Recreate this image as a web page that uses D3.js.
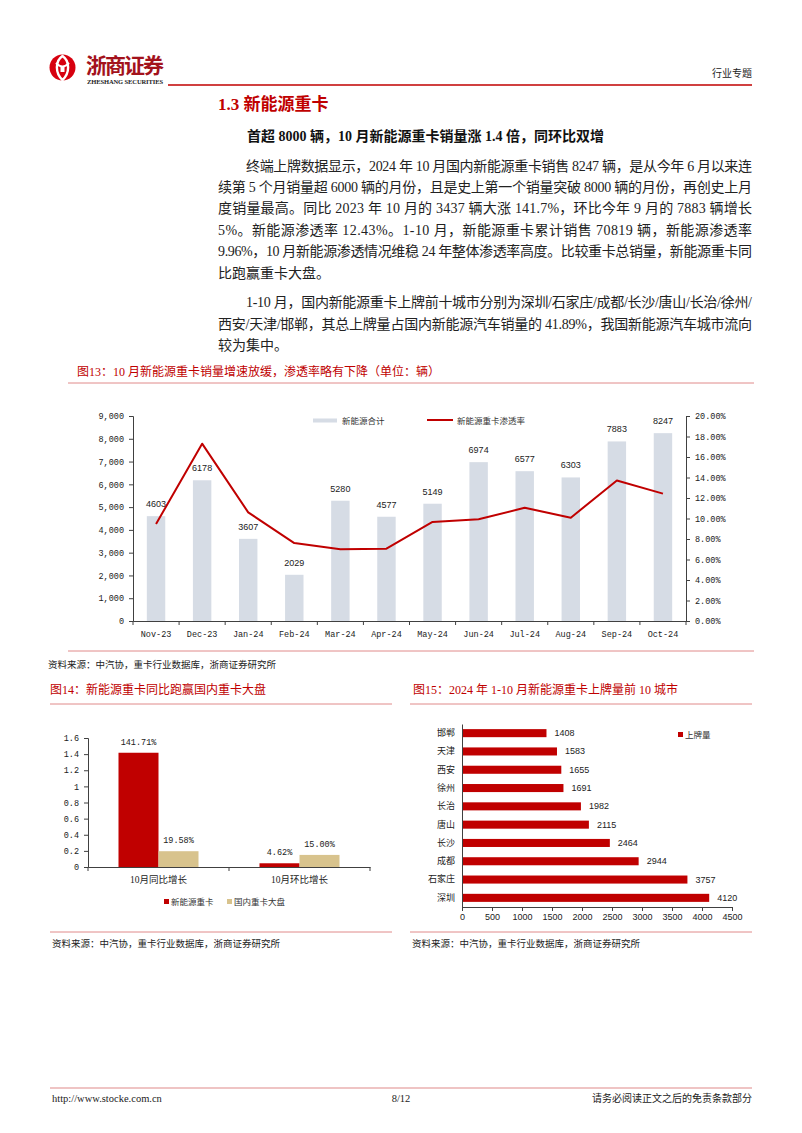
<!DOCTYPE html>
<html><head><meta charset="utf-8">
<script src="https://cdn.jsdelivr.net/npm/d3@7"></script>
<style>body{margin:0;background:#fff}svg{display:block}</style>
</head><body>
<script>
// ---------- data ----------
const months = ["Nov-23","Dec-23","Jan-24","Feb-24","Mar-24","Apr-24","May-24","Jun-24","Jul-24","Aug-24","Sep-24","Oct-24"];
const nevSales = [4603,6178,3607,2029,5280,4577,5149,6974,6577,6303,7883,8247];
const nevRate = [0.0946,0.173,0.106,0.076,0.070,0.0705,0.0966,0.0992,0.1105,0.1008,0.137,0.1243];
const leftTicks = [0,1000,2000,3000,4000,5000,6000,7000,8000,9000];
const rightTicks = [0,0.02,0.04,0.06,0.08,0.10,0.12,0.14,0.16,0.18,0.20];

const growthCats = ["10月同比增长","10月环比增长"];
const growthNev = [1.4171,0.0462];
const growthAll = [0.1958,0.15];
const growthTicks = [0,0.2,0.4,0.6,0.8,1,1.2,1.4,1.6];

const cities = ["深圳","石家庄","成都","长沙","唐山","长治","徐州","西安","天津","邯郸"];
const cityVals = [4120,3757,2944,2464,2115,1982,1691,1655,1583,1408];
const cityTicks = [0,500,1000,1500,2000,2500,3000,3500,4000,4500];

const para1 = [
 "终端上牌数据显示，2024 年 10 月国内新能源重卡销售 8247 辆，是从今年 6 月以来连",
 "续第 5 个月销量超 6000 辆的月份，且是史上第一个销量突破 8000 辆的月份，再创史上月",
 "度销量最高。同比 2023 年 10 月的 3437 辆大涨 141.7%，环比今年 9 月的 7883 辆增长",
 "5%。新能源渗透率 12.43%。1-10 月，新能源重卡累计销售 70819 辆，新能源渗透率",
 "9.96%，10 月新能源渗透情况维稳 24 年整体渗透率高度。比较重卡总销量，新能源重卡同",
 "比跑赢重卡大盘。"
];
const para2 = [
 "1-10 月，国内新能源重卡上牌前十城市分别为深圳/石家庄/成都/长沙/唐山/长治/徐州/",
 "西安/天津/邯郸，其总上牌量占国内新能源汽车销量的 41.89%，我国新能源汽车城市流向",
 "较为集中。"
];

// ---------- styles ----------
const RED = "#c00000";
const BARGRAY = "#d6dce5";
const TAN = "#d8c38d";
const AX = "#404040";
const SERIF = "'Liberation Serif','Noto Sans CJK SC',serif";
const CJK = "'Noto Sans CJK SC',sans-serif";
const MONO = "'Liberation Mono','Noto Sans CJK SC',monospace";
const SANS = "'Liberation Sans','Noto Sans CJK SC',sans-serif";

const svg = d3.select("body").append("svg").attr("width",802).attr("height",1133);
svg.append("rect").attr("width",802).attr("height",1133).attr("fill","#fff");

function txt(x,y,s,o={}){
  const t = svg.append("text").attr("x",x).attr("y",y).text(s)
    .attr("font-family",o.ff||SERIF).attr("font-size",o.fs||14)
    .attr("fill",o.fill||"#1a1a1a");
  if(o.fw) t.attr("font-weight",o.fw);
  if(o.anchor) t.attr("text-anchor",o.anchor);
  if(o.len){ t.attr("textLength",o.len).attr("lengthAdjust","spacing"); }
  if(o.db) t.attr("dominant-baseline",o.db);
  return t;
}
function hline(x1,x2,y,c,w){ svg.append("line").attr("x1",x1).attr("x2",x2).attr("y1",y).attr("y2",y).attr("stroke",c).attr("stroke-width",w||1); }

// ---------- header ----------
svg.append("circle").attr("cx",62.5).attr("cy",67.5).attr("r",13).attr("fill","#d7000f");
svg.append("path").attr("d","M62.5,56 C55,61 55,73 62.5,80 C70,73 70,61 62.5,56 Z").attr("fill","none").attr("stroke","#fff").attr("stroke-width",2.4);
svg.append("path").attr("d","M56,63 Q62.5,70 69,63").attr("fill","none").attr("stroke","#fff").attr("stroke-width",2);
svg.append("rect").attr("x",60.5).attr("y",66).attr("width",4).attr("height",6).attr("fill","#fff");
txt(86,73,"浙商证券",{ff:CJK,fs:21,fw:"bold",fill:"#a3121c",len:78});
txt(87,84,"ZHESHANG SECURITIES",{ff:"'Liberation Serif',serif",fs:6.5,fw:"bold",fill:"#222",len:76});
hline(168,752,85,RED,1.5);
txt(752,77,"行业专题",{ff:CJK,fs:10,anchor:"end",fill:"#222"});

// ---------- body text ----------
txt(218,110,"1.3 新能源重卡",{fs:17,fw:"bold",fill:RED});
txt(247,141,"首超 8000 辆，10 月新能源重卡销量涨 1.4 倍，同环比双增",{fs:14,fw:"bold",fill:"#111"});
const p1y = [171,192,213,235,256,278];
para1.forEach((s,i)=>{
  const x = i===0?246:218;
  const last = i===para1.length-1;
  txt(x,p1y[i],s,{fs:14,len:last?null:752-x,fill:"#222"});
});
const p2y = [307,329,350];
para2.forEach((s,i)=>{
  const x = i===0?246:218;
  const last = i===para2.length-1;
  txt(x,p2y[i],s,{fs:14,len:last?null:752-x,fill:"#222"});
});

// ---------- Figure 13 ----------
txt(77,376,"图13：10 月新能源重卡销量增速放缓，渗透率略有下降（单位：辆）",{fs:12,fill:RED});
hline(68,754,383,"#e08a8a",1);
{
  const x = d3.scaleBand().domain(months).range([133,686]);
  const y = d3.scaleLinear().domain([0,9000]).range([621,416]);
  const y2 = d3.scaleLinear().domain([0,0.2]).range([621,416]);
  const bw = x.bandwidth()*0.4;
  const g = svg.append("g");
  g.selectAll("rect.b").data(months).join("rect")
    .attr("x",d=>x(d)+x.bandwidth()/2-bw/2).attr("width",bw)
    .attr("y",(d,i)=>y(nevSales[i])).attr("height",(d,i)=>y(0)-y(nevSales[i]))
    .attr("fill",BARGRAY);
  g.selectAll("text.v").data(months).join("text")
    .attr("x",d=>x(d)+x.bandwidth()/2).attr("y",(d,i)=>y(nevSales[i])-9)
    .attr("text-anchor","middle").attr("font-family",SANS).attr("font-size",9).attr("fill","#222")
    .text((d,i)=>nevSales[i]);
  const line = d3.line().x((d,i)=>x(months[i])+x.bandwidth()/2).y(d=>y2(d));
  g.append("path").datum(nevRate).attr("d",line).attr("fill","none").attr("stroke",RED).attr("stroke-width",2).attr("stroke-linejoin","round");

  const la = g.append("g").attr("transform","translate(133,0)")
    .call(d3.axisLeft(y).tickValues(leftTicks).tickSize(4).tickPadding(5).tickFormat(d3.format(",")));
  const ra = g.append("g").attr("transform","translate(686,0)")
    .call(d3.axisRight(y2).tickValues(rightTicks).tickSize(4).tickPadding(5).tickFormat(d3.format(".2%")));
  const xa = g.append("g").attr("transform","translate(0,621)")
    .call(d3.axisBottom(x).tickSize(0).tickPadding(10));
  [la,ra,xa].forEach(a=>{
    a.select(".domain").attr("stroke",AX);
    a.selectAll(".tick line").attr("stroke",AX);
    a.selectAll("text").attr("font-family",MONO).attr("font-size",8.5).attr("fill","#222");
  });
  xa.selectAll("text").attr("font-size",8.5);
  g.selectAll("line.bt").data(months.concat(["end"])).join("line")
    .attr("x1",d=>d==="end"?x.range()[1]:x(d)).attr("x2",d=>d==="end"?x.range()[1]:x(d))
    .attr("y1",621).attr("y2",625).attr("stroke",AX);
  g.append("rect").attr("x",313).attr("y",418.5).attr("width",24).attr("height",4).attr("fill",BARGRAY);
  txt(342,424,"新能源合计",{ff:CJK,fs:8.5,fill:"#333"});
  g.append("line").attr("x1",427).attr("x2",453).attr("y1",420).attr("y2",420).attr("stroke",RED).attr("stroke-width",2);
  txt(457,424,"新能源重卡渗透率",{ff:CJK,fs:8.5,fill:"#333"});
}
hline(68,754,651,"#e08a8a",1);
txt(48,668,"资料来源：中汽协，重卡行业数据库，浙商证券研究所",{ff:CJK,fs:9.5,fill:"#222"});

// ---------- Figure 14 ----------
txt(50,694,"图14：新能源重卡同比跑赢国内重卡大盘",{fs:12,fill:RED});
hline(50,392,704,"#e08a8a",1);
{
  const x = d3.scaleBand().domain(growthCats).range([88,370]);
  const y = d3.scaleLinear().domain([0,1.6]).range([867,738]);
  const g = svg.append("g");
  const bw = 40;
  g.selectAll("rect.a").data(growthCats).join("rect")
    .attr("x",d=>x(d)+x.bandwidth()/2-bw).attr("width",bw)
    .attr("y",(d,i)=>y(growthNev[i])).attr("height",(d,i)=>y(0)-y(growthNev[i])).attr("fill",RED);
  g.selectAll("rect.b").data(growthCats).join("rect")
    .attr("x",d=>x(d)+x.bandwidth()/2).attr("width",bw)
    .attr("y",(d,i)=>y(growthAll[i])).attr("height",(d,i)=>y(0)-y(growthAll[i])).attr("fill",TAN);
  const f = d3.format(".2%");
  g.selectAll("text.a").data(growthCats).join("text")
    .attr("x",d=>x(d)+x.bandwidth()/2-bw/2).attr("y",(d,i)=>y(growthNev[i])-8)
    .attr("text-anchor","middle").attr("font-family",MONO).attr("font-size",8.5).attr("fill","#222")
    .text((d,i)=>f(growthNev[i]));
  g.selectAll("text.b").data(growthCats).join("text")
    .attr("x",d=>x(d)+x.bandwidth()/2+bw/2).attr("y",(d,i)=>y(growthAll[i])-8)
    .attr("text-anchor","middle").attr("font-family",MONO).attr("font-size",8.5).attr("fill","#222")
    .text((d,i)=>f(growthAll[i]));
  const la = g.append("g").attr("transform","translate(88,0)")
    .call(d3.axisLeft(y).tickValues(growthTicks).tickSize(4).tickPadding(5).tickFormat(d=>d3.format("")(+d.toFixed(1))));
  const xa = g.append("g").attr("transform","translate(0,867)")
    .call(d3.axisBottom(x).tickSize(0).tickPadding(9));
  [la,xa].forEach(a=>{
    a.select(".domain").attr("stroke",AX);
    a.selectAll(".tick line").attr("stroke",AX);
    a.selectAll("text").attr("font-family",MONO).attr("font-size",8.5).attr("fill","#222");
  });
  xa.selectAll("text").attr("font-family",SERIF).attr("font-size",9.5);
  g.selectAll("line.bt").data(growthCats.concat(["end"])).join("line")
    .attr("x1",d=>d==="end"?x.range()[1]:x(d)).attr("x2",d=>d==="end"?x.range()[1]:x(d))
    .attr("y1",867).attr("y2",871).attr("stroke",AX);
  g.append("rect").attr("x",164).attr("y",899).attr("width",5).attr("height",5).attr("fill",RED);
  txt(171,905,"新能源重卡",{ff:CJK,fs:8.5,fill:"#333"});
  g.append("rect").attr("x",227).attr("y",899).attr("width",5).attr("height",5).attr("fill",TAN);
  txt(234,905,"国内重卡大盘",{ff:CJK,fs:8.5,fill:"#333"});
}
hline(50,392,932,"#e08a8a",1);
txt(52,947,"资料来源：中汽协，重卡行业数据库，浙商证券研究所",{ff:CJK,fs:9.5,fill:"#222"});

// ---------- Figure 15 ----------
txt(413,694,"图15：2024 年 1-10 月新能源重卡上牌量前 10 城市",{fs:12,fill:RED});
hline(410,752,704,"#e08a8a",1);
{
  const y = d3.scaleBand().domain(cities.slice().reverse()).range([724,907]).paddingInner(0.56).paddingOuter(0.28);
  const x = d3.scaleLinear().domain([0,4500]).range([462,732]);
  const g = svg.append("g");
  g.selectAll("rect").data(cities).join("rect")
    .attr("x",x(0)).attr("y",d=>y(d)).attr("height",y.bandwidth())
    .attr("width",(d,i)=>x(cityVals[i])-x(0)).attr("fill",RED);
  g.selectAll("text.v").data(cities).join("text")
    .attr("x",(d,i)=>x(cityVals[i])+8).attr("y",d=>y(d)+y.bandwidth()/2).attr("dominant-baseline","central")
    .attr("font-family",SANS).attr("font-size",9).attr("fill","#222").text((d,i)=>cityVals[i]);
  const xa = g.append("g").attr("transform","translate(0,907)")
    .call(d3.axisBottom(x).tickValues(cityTicks).tickSize(4).tickPadding(3).tickFormat(d3.format("d")));
  const ya = g.append("g").attr("transform","translate(462,0)")
    .call(d3.axisLeft(y).tickSize(0).tickPadding(7));
  [xa,ya].forEach(a=>{
    a.select(".domain").attr("stroke",AX);
    a.selectAll(".tick line").attr("stroke",AX);
  });
  xa.selectAll("text").attr("font-family",SANS).attr("font-size",9).attr("fill","#222");
  ya.selectAll("text").attr("font-family",CJK).attr("font-size",9).attr("fill","#222");
  g.append("rect").attr("x",678).attr("y",732).attr("width",5).attr("height",5).attr("fill",RED);
  txt(685,738,"上牌量",{ff:CJK,fs:8.5,fill:"#333"});
}
hline(410,752,932,"#e08a8a",1);
txt(412,947,"资料来源：中汽协，重卡行业数据库，浙商证券研究所",{ff:CJK,fs:9.5,fill:"#222"});

// ---------- footer ----------
hline(50,752,1088,"#e08a8a",1.2);
txt(52,1102,"http://www.stocke.com.cn",{ff:"'Liberation Serif',serif",fs:10.5,fill:"#222"});
txt(401,1102,"8/12",{ff:"'Liberation Serif',serif",fs:10.5,fill:"#222",anchor:"middle"});
txt(752,1102,"请务必阅读正文之后的免责条款部分",{ff:CJK,fs:10,fill:"#222",anchor:"end"});
</script>
</body></html>
